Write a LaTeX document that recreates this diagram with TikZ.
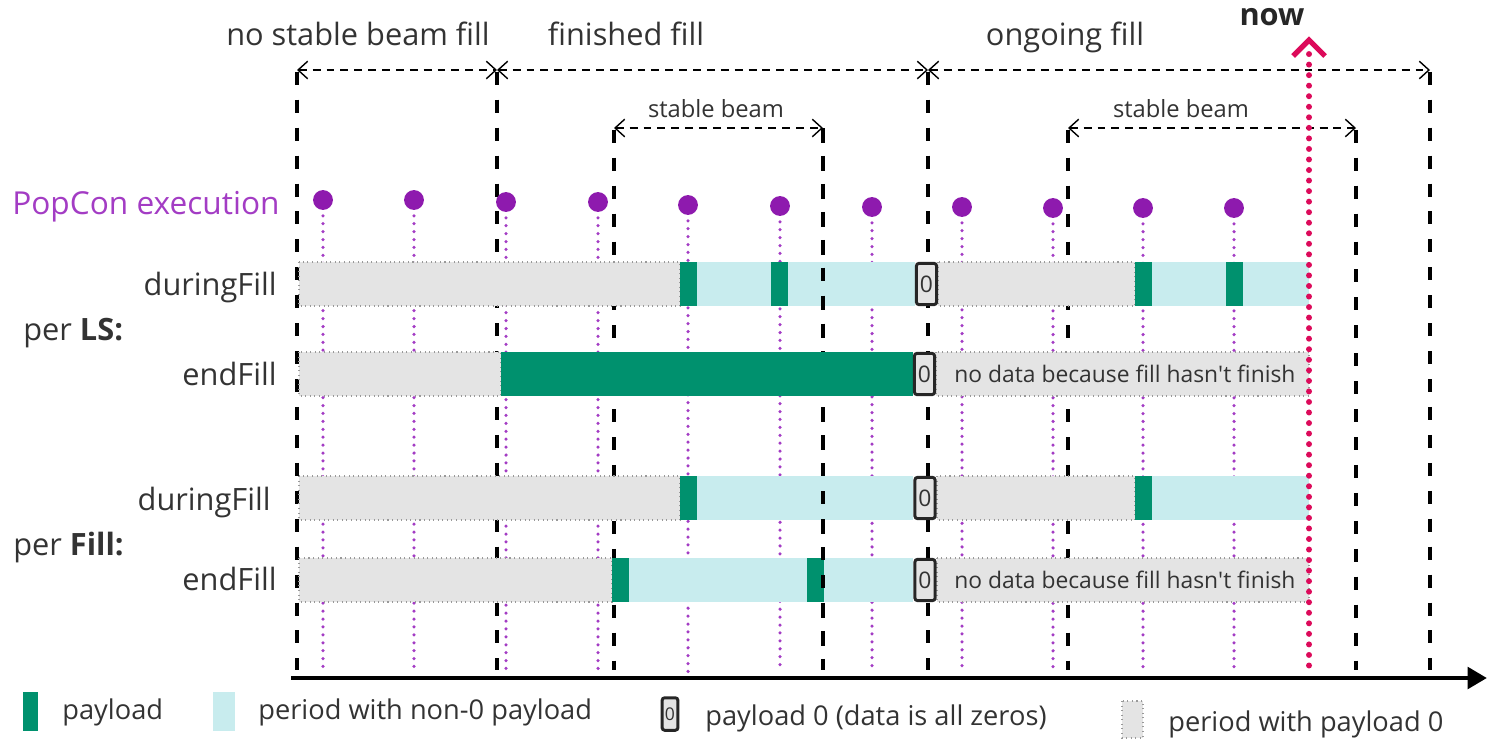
\documentclass[tikz,border=0pt]{standalone}
\usepackage{fontspec}
\setmainfont{Open Sans}
\usetikzlibrary{arrows.meta}

\definecolor{textgray}{HTML}{333333}
\definecolor{popcon}{HTML}{A33CC4}
\definecolor{popdot}{HTML}{8E1AAE}
\definecolor{payloadgreen}{HTML}{00916E}
\definecolor{nonzerocyan}{HTML}{C8ECEE}
\definecolor{idlegray}{HTML}{E4E4E4}
\definecolor{nowred}{HTML}{DC0A5A}

% one bar piece: style, from x, to x, row centre
\newcommand{\barpiece}[4]{\path[#1] (#2,#4-22) rectangle (#3,#4+22);}

\tikzset{
  boundary/.style = {line width=2.3pt, dash pattern=on 7.4pt off 8.5pt},
  span/.style = {{Straight Barb[length=5.5pt,width=10pt]}-{Straight Barb[length=5.5pt,width=10pt]},
    line width=0.8pt, dash pattern=on 4.5pt off 3.4pt},
  biglabel/.style = {anchor=base, inner sep=0pt, text=textgray, font=\fontsize{17.5}{21}\selectfont},
  smalllabel/.style = {anchor=base, inner sep=0pt, text=textgray, font=\fontsize{13.5}{16}\selectfont},
  rowlabel/.style = {biglabel, anchor=base east},
  legendtext/.style = {anchor=base west, inner sep=0pt, text=textgray, font=\fontsize{15.5}{18}\selectfont},
  popdot/.style = {circle, fill=popdot, minimum size=11.3pt, inner sep=0pt},
  rundots/.style = {popcon, line width=2pt, line cap=round, dash pattern=on 0pt off 4.5pt},
  nowdots/.style = {nowred, line width=3.4pt, line cap=round, dash pattern=on 0pt off 6pt},
  idle/.style = {fill=idlegray, draw=gray!80, dotted, line width=0.6pt},
  nonzero/.style = {fill=nonzerocyan},
  payload/.style = {fill=payloadgreen},
  zerobox/.style = {draw=black!85, line width=1.7pt, fill=idlegray, rounded corners=1.5pt,
    minimum width=11.5pt, minimum height=23.5pt, inner sep=0pt, text=textgray,
    font=\fontsize{13}{15}\selectfont},
  nodata/.style = {anchor=west, inner sep=0pt, text=textgray, font=\fontsize{13}{15}\selectfont},
  timeaxis/.style = {line width=2.8pt, -{Triangle[length=11pt,width=12pt]}}
}

\begin{document}
\begin{tikzpicture}[x=0.02cm, y=-0.02cm]
  \useasboundingbox (0,0) rectangle (1487,738);

  % fill and stable beam boundaries
  \coordinate (f0) at (297,70);
  \coordinate (f1) at (497,70);
  \coordinate (f2) at (928,70);
  \coordinate (f3) at (1430,70);
  \coordinate (s0) at (614,128);
  \coordinate (s1) at (823,128);
  \coordinate (s2) at (1068,128);
  \coordinate (s3) at (1356,128);
  \coordinate (floor) at (0,670);

  \foreach \b in {f0,f1,f2,f3,s0,s1,s2,s3}
    \draw[boundary] ([yshift=-1pt]\b) -- (\b |- floor);

  \draw[span] (f0) -- (f1);
  \draw[span] (f1) -- (f2);
  \draw[span] (f2) -- (f3);
  \draw[span] (s0) -- (s1);
  \draw[span] (s2) -- (s3);

  \node[biglabel] (nostable) at (358,45) {no stable beam fill};
  \node[biglabel] (finished) at (626,45) {finished fill};
  \node[biglabel] (ongoing) at (1065,45) {ongoing fill};
  \node[smalllabel] (stable1) at (716,117) {stable beam};
  \node[smalllabel] (stable2) at (1181,117) {stable beam};

  % PopCon runs
  \node[anchor=base west, inner sep=0pt, text=popcon, font=\fontsize{18}{21}\selectfont]
    (popcon) at (12,214) {PopCon execution};
  \foreach \x/\y [count=\i] in {323/200, 414/200, 506/202, 598/202, 688/205, 780/206,
      872/207, 962/207, 1053/208, 1143/208, 1234/208} {
    \draw[rundots] (\x,\y) -- (\x,672);
    \node[popdot] (run\i) at (\x,\y) {};
  }

  % per LS, duringFill
  \barpiece{idle}{299}{680}{284}
  \barpiece{payload}{680}{697}{284}
  \barpiece{nonzero}{697}{771}{284}
  \barpiece{payload}{771}{788}{284}
  \barpiece{nonzero}{788}{915}{284}
  \barpiece{idle}{938}{1135}{284}
  \barpiece{payload}{1135}{1152}{284}
  \barpiece{nonzero}{1152}{1226}{284}
  \barpiece{payload}{1226}{1243}{284}
  \barpiece{nonzero}{1243}{1309}{284}
  \node[zerobox] (zero1) at (926.5,284) {0};

  % per Fill, duringFill
  \barpiece{idle}{299}{680}{498}
  \barpiece{payload}{680}{697}{498}
  \barpiece{nonzero}{697}{913}{498}
  \barpiece{idle}{937}{1135}{498}
  \barpiece{payload}{1135}{1152}{498}
  \barpiece{nonzero}{1152}{1309}{498}
  \node[zerobox] (zero3) at (925,498) {0};

  % per Fill, endFill
  \barpiece{idle}{299}{612}{580}
  \barpiece{payload}{612}{629}{580}
  \barpiece{nonzero}{629}{807}{580}
  \barpiece{payload}{807}{824}{580}
  \barpiece{nonzero}{824}{913}{580}
  \barpiece{idle}{937}{1309}{580}
  \node[zerobox] (zero4) at (925,580) {0};
  \node[nodata] (nodata2) at (954,580) {no data because fill hasn\textquotesingle t finish};

  \draw[boundary] (s1) -- (s1 |- floor);

  % per LS, endFill
  \barpiece{idle}{299}{501}{374}
  \barpiece{payload}{501}{913}{374}
  \barpiece{idle}{936}{1309}{374}
  \node[zerobox] (zero2) at (924.5,374) {0};
  \node[nodata] (nodata1) at (954,374) {no data because fill hasn\textquotesingle t finish};

  % row names
  \node[rowlabel] (lsduring) at (277,295) {duringFill};
  \node[rowlabel] (lsend) at (277,385) {endFill};
  \node[biglabel, anchor=base west] (perls) at (23,340) {per \textbf{LS:}};
  \node[rowlabel] (fillduring) at (271,510) {duringFill};
  \node[biglabel, anchor=base west] (perfill) at (13,555) {per \textbf{Fill:}};
  \node[rowlabel] (fillend) at (277,590) {endFill};

  % now
  \coordinate (nowtop) at (1309,40);
  \coordinate (nowbase) at (1309,676);
  \draw[nowdots] ([yshift=-8pt]nowtop) -- (nowbase);
  \draw[nowred, line width=3pt] ([shift={(-16,16)}]nowtop) -- (nowtop) -- ([shift={(16,16)}]nowtop);
  \node[biglabel, text=black!85, font=\fontsize{17.5}{21}\selectfont\bfseries] (now) at (1272,25) {now};

  % time axis
  \coordinate (axisstart) at (291,678);
  \coordinate (axisend) at (1487,678);
  \draw[timeaxis] (axisstart) -- (axisend);

  % legend
  \path[payload] (23,692) rectangle (38,731);
  \node[legendtext] (legpayload) at (62,719) {payload};
  \path[nonzero] (213,692) rectangle (235,731);
  \node[legendtext] (legnonzero) at (258,719) {period with non-0 payload};
  \node[zerobox, minimum width=9pt, minimum height=18.5pt, font=\fontsize{10}{12}\selectfont]
    (legzero) at (670,714) {0};
  \node[legendtext] (legzerotext) at (705,725) {payload 0 (data is all zeros)};
  \path[idle] (1122,701) rectangle (1143,738);
  \node[legendtext] (legidle) at (1168,731) {period with payload 0};
\end{tikzpicture}
\end{document}
